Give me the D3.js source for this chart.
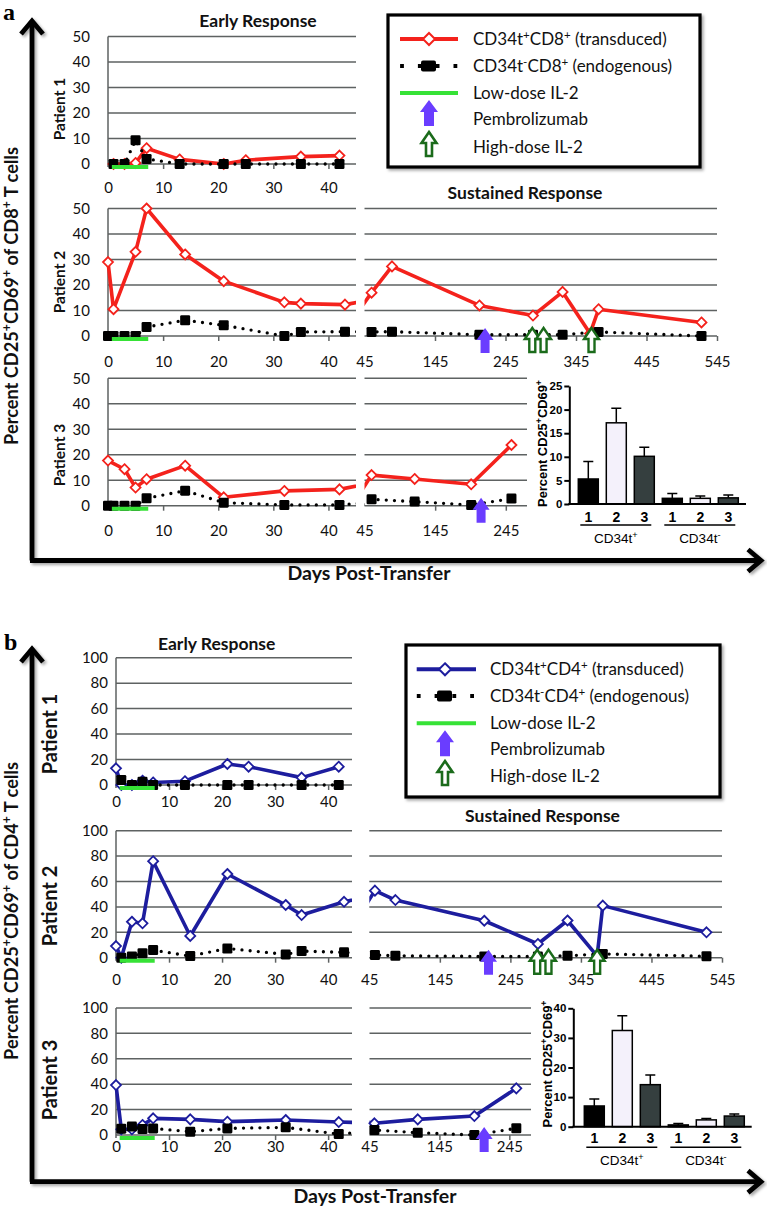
<!DOCTYPE html>
<html>
<head>
<meta charset="utf-8">
<script src="https://cdn.jsdelivr.net/npm/d3@7"></script>
<style>
  body { margin: 0; background: #fff; }
  svg { display: block; }
</style>
</head>
<body>
<div id="chart"></div>
<script>
// ---------- panel a : CD8+ ----------
const aP1Days  = [1, 3, 5, 7, 13, 21, 25, 35, 42];
const aP1Trans = [0, 0, 0.4, 6.2, 1.8, 0, 1.5, 2.9, 3.3];
const aP1Endo  = [0, 0, 9.3, 2, 0, 0, 0, 0, 0];

const aP2Days  = [0, 1, 3, 5, 7, 14, 21, 32, 35, 43, 55, 84, 208, 284, 326, 365, 377, 523];
const aP2Trans = [29, 10.5, null, 33, 50, 32, 21.5, 13.2, 12.7, 12.3, 17, 27.3, 12, 8, 17.3, 1, 10.5, 5.3];
const aP2Endo  = [0, 0, 0, 0, 3.5, 6.2, 4.2, 0, 1.6, 1.7, 1.6, 1.7, 0.5, 0.5, 0.5, null, 1.6, 0];
const aP2Pembro = [216];
const aP2HighDose = [283, 299, 367];

const aP3Days  = [0, 1, 3, 5, 7, 14, 21, 32, 42, 55, 116, 196, 253];
const aP3Trans = [17.7, null, 14.3, 7.1, 10.4, 15.7, 3.3, 5.8, 6.4, 12, 10.5, 8.4, 23.8];
const aP3Endo  = [0, 0, 0, 0, 2.9, 5.9, 1.2, 0.3, 0.3, 2.5, 1.6, 0.3, 2.8];
const aP3Pembro = [210];

// ---------- panel b : CD4+ ----------
const bP1Days  = [0, 1, 3, 5, 7, 13, 21, 25, 35, 42];
const bP1Trans = [13.1, 0, 0, 3.4, 2, 3, 16.5, 14.4, 5.8, 14.4];
const bP1Endo  = [null, 4, 0, 2.5, 0, 0, 0, 0, 0, 0];

const bP2Days  = [0, 1, 3, 5, 7, 14, 21, 32, 35, 43, 53, 82, 208, 284, 326, 368, 376, 523];
const bP2Trans = [9.2, 0, 28.3, 27.1, 76, 17.1, 65.9, 41.5, 33.6, 44, 52.8, 45.4, 29.1, 10.8, 29.3, 1.3, 41, 20];
const bP2Endo  = [null, 0, 1, 3.5, 6, 1.3, 7.3, 2.6, 5.2, 4.2, 2.1, 1.5, 1, 1, 1.5, null, 3, 1.1];
const bP2Pembro = [214];
const bP2HighDose = [283, 299, 368];

const bP3Days  = [0, 1, 3, 5, 7, 14, 21, 32, 42, 52, 114, 195, 255];
const bP3Trans = [39.3, 4.5, 4.5, 7.9, 13.1, 12.3, 10.5, 11.8, 10.2, 9.2, 12.3, 14.9, 36.7];
const bP3Endo  = [null, 5, 6.6, 4.7, 5.2, 2.6, 5.2, 6, 0.8, 3.9, 1.8, 0, 5.3];
const bP3Pembro = [209];

const lowDoseDays = [0.7, 7.3];

// ticks
const aYTicks = [0, 10, 20, 30, 40, 50];
const bYTicks = [0, 20, 40, 60, 80, 100];
const earlyTicks = [0, 10, 20, 30, 40];
const sustainedTicks = [45, 145, 245, 345, 445, 545];

// inset bar charts (mean and SEM)
const barNumbers = ["1", "2", "3"];
const barGroups = ["CD34t^+", "CD34t^-"];
const cd8BarMean = [5.3, 17.2, 10.1, 1.2, 1.2, 1.3];
const cd8BarSem  = [3.7, 3.1, 1.9, 1.0, 0.5, 0.6];
const cd8BarTicks = [0, 5, 10, 15, 20, 25];
const cd4BarMean = [7.0, 32.5, 14.2, 0.6, 2.3, 3.6];
const cd4BarSem  = [2.4, 5.0, 3.3, 0.5, 0.5, 0.7];
const cd4BarTicks = [0, 10, 20, 30, 40];

const cd8LegendLabels = ["CD34t^+CD8^+ (transduced)", "CD34t^-CD8^+ (endogenous)", "Low-dose IL-2", "Pembrolizumab", "High-dose IL-2"];
const cd4LegendLabels = ["CD34t^+CD4^+ (transduced)", "CD34t^-CD4^+ (endogenous)", "Low-dose IL-2", "Pembrolizumab", "High-dose IL-2"];

const W = 767, H = 1210;
const FONT = "Lato, 'Open Sans', 'DejaVu Sans', sans-serif";
const ARIAL = "'Liberation Sans', Arial, sans-serif";
const RED = "#f4221c", NAVY = "#1d1d9e", GREEN = "#36e236", PURPLE = "#6a3dff", DKGREEN = "#1b6b1b", GRID = "#5e6262";
const barFills = ["#000000", "#f4f1fb", "#353f3f"];
const TICK_FS = 15;

const svg = d3.select("#chart").append("svg")
    .attr("width", W).attr("height", H)
    .style("font-family", FONT);

const defs = svg.append("defs");
defs.append("filter").attr("id", "shadow").attr("x", "-10%").attr("y", "-10%").attr("width", "120%").attr("height", "120%")
  .append("feDropShadow").attr("dx", 2).attr("dy", 2).attr("stdDeviation", 1.5)
  .attr("flood-color", "#000").attr("flood-opacity", 0.35);

// text with ^+ / ^- superscripts
function rich(sel, str, fs) {
    sel.selectAll("tspan").remove();
    sel.attr("font-size", fs);
    const parts = str.split(/(\^[+-])/).filter(s => s.length);
    let up = false;
    parts.forEach(p => {
        if (p[0] === "^") {
            sel.append("tspan").attr("dy", -fs * 0.38).attr("font-size", fs * 0.68).text(p[1]);
            up = true;
        } else {
            sel.append("tspan").attr("dy", up ? fs * 0.38 : 0).text(p);
            up = false;
        }
    });
    return sel;
}
// centre a text on its x by measuring it
function centre(sel) {
    const len = sel.node().getComputedTextLength();
    sel.attr("text-anchor", "start").attr("x", (+sel.attr("x") || 0) - len / 2);
    return sel;
}
// size a rich text so that it spans a given length
function fitRich(sel, str, fs, target) {
    rich(sel, str, fs);
    const len = sel.node().getComputedTextLength();
    return rich(sel, str, fs * target / len);
}

function arrowPath(cx, tip, w, h, sw, hh) {
    const hw = w / 2, s = sw / 2;
    return `M${cx},${tip}L${cx + hw},${tip + hh}L${cx + s},${tip + hh}L${cx + s},${tip + h}` +
           `L${cx - s},${tip + h}L${cx - s},${tip + hh}L${cx - hw},${tip + hh}Z`;
}
function pembroArrow(g, cx, tip) {
    g.append("path").attr("d", arrowPath(cx, tip, 17, 25, 9, 12)).attr("fill", PURPLE);
}
function highArrow(g, cx, tip) {
    g.append("path").attr("d", arrowPath(cx, tip, 15, 24, 6, 11))
      .attr("fill", "#fff").attr("stroke", DKGREEN).attr("stroke-width", 2.4);
}

let clipId = 0;
function clipRect(x0, x1) {
    const id = "clip" + (clipId++);
    defs.append("clipPath").attr("id", id).append("rect")
      .attr("x", x0).attr("y", 0).attr("width", x1 - x0).attr("height", H);
    return `url(#${id})`;
}

function drawRow(p, r) {
    const g = svg.append("g");
    const y = d3.scaleLinear().domain([0, p.yMax]).range([r.y0, r.yTop]);
    const xL = d3.scaleLinear().domain(p.xLDomain).range(p.xLRange);
    const xR = r.xRRange ? d3.scaleLinear().domain(r.xRDomain).range(r.xRRange) : null;
    const segs = xR ? [xL, xR] : [xL];

    // grid lines (0 line doubles as x axis)
    segs.forEach(x => {
        g.append("g").selectAll("line").data(p.yTicks).join("line")
          .attr("x1", x.range()[0]).attr("x2", x.range()[1])
          .attr("y1", d => y(d)).attr("y2", d => y(d))
          .attr("stroke", GRID).attr("stroke-width", 1.5);
    });
    g.append("line").attr("x1", xL(0)).attr("x2", xL(0))
      .attr("y1", y(0) + 3).attr("y2", y(p.yMax))
      .attr("stroke", GRID).attr("stroke-width", 1.5);

    // y tick labels
    const ya = g.append("g").attr("transform", `translate(${xL(0)},0)`)
      .call(d3.axisLeft(y).tickValues(p.yTicks).tickSize(0).tickPadding(p.yPad));
    ya.select(".domain").remove();
    ya.selectAll("text").attr("font-family", FONT).attr("font-size", TICK_FS).attr("fill", "#111");

    // x axes
    g.append("g").attr("transform", `translate(0,${r.y0})`)
      .call(d3.axisBottom(xL).tickValues(earlyTicks).tickSize(5).tickPadding(r.labOff - 10.5));
    if (xR) {
        const rt = sustainedTicks.filter(t => t <= r.xRDomain[1]);
        g.append("g").attr("transform", `translate(0,${r.y0})`)
          .call(d3.axisBottom(xR).tickValues(rt).tickSize(5).tickPadding(r.labOff - 10.5));
    }
    g.selectAll(".domain").remove();
    g.selectAll(".tick line").attr("stroke", GRID).attr("stroke-width", 1.5)
      .filter(d => d === 0 || d === 45).remove();
    g.selectAll(".tick text").attr("font-family", FONT).attr("font-size", TICK_FS).attr("fill", "#111");

    const trans = r.days.map((d, i) => ({ day: d, v: r.trans[i] })).filter(q => q.v != null);
    const endo = r.days.map((d, i) => ({ day: d, v: r.endo[i] })).filter(q => q.v != null);

    segs.forEach((x, si) => {
        const clip = si === 0 ? clipRect(x.range()[0] - 10, x.range()[1]) : clipRect(x.range()[0], x.range()[1] + 10);
        const inSeg = q => si === 0 ? q.day <= x.domain()[1] : q.day >= x.domain()[0];
        const line = d3.line().x(q => x(q.day)).y(q => y(q.v));

        g.append("path").datum(trans).attr("d", line).attr("clip-path", clip)
          .attr("fill", "none").attr("stroke", p.color).attr("stroke-width", 3.6)
          .attr("stroke-linejoin", "round");
        g.append("g").selectAll("path").data(trans.filter(inSeg)).join("path")
          .attr("d", "M0,-5L5,0L0,5L-5,0Z")
          .attr("transform", q => `translate(${x(q.day)},${y(q.v)})`)
          .attr("fill", "#fff").attr("stroke", p.color).attr("stroke-width", 1.8);

        g.append("path").datum(endo).attr("d", line).attr("clip-path", clip)
          .attr("fill", "none").attr("stroke", "#000").attr("stroke-width", 3.3)
          .attr("stroke-dasharray", "0 8.2").attr("stroke-linecap", "round");
        g.append("g").selectAll("rect").data(endo.filter(inSeg)).join("rect")
          .attr("x", q => x(q.day) - 5).attr("y", q => y(q.v) - 5)
          .attr("width", 10).attr("height", 10).attr("rx", 1.3)
          .attr("fill", "#000");
    });

    // low-dose IL-2 period
    g.append("line").attr("x1", xL(lowDoseDays[0])).attr("x2", xL(lowDoseDays[1]))
      .attr("y1", y(0) + 3).attr("y2", y(0) + 3)
      .attr("stroke", GREEN).attr("stroke-width", 4);

    if (xR) {
        (r.pembro || []).forEach(d => pembroArrow(g, xR(d), y(0) - 8));
        (r.high || []).forEach(d => highArrow(g, xR(d), y(0) - 8));
    }

    // patient label
    g.append("text").attr("transform", `translate(${p.patX},${r.patY}) rotate(-90)`)
      .attr("text-anchor", "middle").attr("font-weight", "bold").attr("font-size", p.patFs)
      .attr("fill", "#111").text(r.patient);
}

function drawLegend(L) {
    const g = svg.append("g");
    g.append("rect").attr("x", L.x).attr("y", L.y).attr("width", L.w).attr("height", L.h)
      .attr("fill", "#fff").attr("stroke", "#000").attr("stroke-width", 3.2)
      .attr("filter", "url(#shadow)");
    const [s0, s1] = L.sample, mid = L.mid, ry = L.rows;
    g.append("line").attr("x1", s0).attr("x2", s1).attr("y1", ry[0]).attr("y2", ry[0])
      .attr("stroke", L.color).attr("stroke-width", 4);
    g.append("path").attr("d", "M0,-6L6,0L0,6L-6,0Z").attr("transform", `translate(${mid},${ry[0]})`)
      .attr("fill", "#fff").attr("stroke", L.color).attr("stroke-width", 2);
    g.append("line").attr("x1", s0 + 2).attr("x2", s1).attr("y1", ry[1]).attr("y2", ry[1])
      .attr("stroke", "#000").attr("stroke-width", 3.8).attr("stroke-dasharray", "0 17.8")
      .attr("stroke-linecap", "square");
    g.append("rect").attr("x", mid - 8).attr("y", ry[1] - 5.5).attr("width", 15).attr("height", 11)
      .attr("rx", 2).attr("fill", "#000");
    g.append("line").attr("x1", s0).attr("x2", s1).attr("y1", ry[2]).attr("y2", ry[2])
      .attr("stroke", GREEN).attr("stroke-width", 4);
    g.append("path").attr("d", arrowPath(mid, ry[3] - 19, 18, 26, 10, 12)).attr("fill", PURPLE);
    g.append("path").attr("d", arrowPath(mid, ry[4] - 15, 15, 24, 6, 11))
      .attr("fill", "#fff").attr("stroke", DKGREEN).attr("stroke-width", 2.6);
    L.labels.forEach((t, i) => {
        rich(g.append("text").attr("x", L.textX).attr("y", ry[i] + 6).attr("fill", "#111"), t, 17);
    });
}

function drawBars(B) {
    const g = svg.append("g").attr("font-family", ARIAL);
    const y = d3.scaleLinear().domain([0, B.max]).range([B.y0, B.yTop]);
    const x = d3.scaleBand().domain(d3.range(B.mean.length)).range(B.band)
      .paddingInner(0.286).paddingOuter(0.143);
    const bw = x.bandwidth();

    // error bars (upper only)
    g.selectAll(".err").data(B.mean).join("path")
      .attr("d", (d, i) => {
          const cx = x(i) + bw / 2, top = y(d + B.sem[i]);
          return `M${cx},${y(d)}V${top}M${cx - 5},${top}H${cx + 5}`;
      })
      .attr("stroke", "#000").attr("stroke-width", 1.5).attr("fill", "none");
    g.selectAll(".bar").data(B.mean).join("rect")
      .attr("x", (d, i) => x(i)).attr("width", bw)
      .attr("y", d => y(d)).attr("height", d => B.y0 - y(d))
      .attr("fill", (d, i) => barFills[i % 3]).attr("stroke", "#000").attr("stroke-width", 1.5);

    const ax = g.append("g").attr("transform", `translate(${B.axisX},0)`)
      .call(d3.axisLeft(y).tickValues(B.ticks).tickSize(5).tickSizeOuter(0).tickPadding(2));
    ax.select(".domain").attr("stroke-width", 2);
    ax.selectAll(".tick line").attr("stroke-width", 2);
    ax.selectAll("text").attr("font-family", ARIAL).attr("font-weight", "bold")
      .attr("font-size", 11.5).attr("fill", "#000");
    g.append("line").attr("x1", B.axisX - 1).attr("x2", B.xEnd).attr("y1", B.y0).attr("y2", B.y0)
      .attr("stroke", "#000").attr("stroke-width", 2);

    g.selectAll(".num").data(B.mean).join("text")
      .attr("x", (d, i) => x(i) + bw / 2).attr("y", B.numY)
      .attr("text-anchor", "middle").attr("font-weight", "bold").attr("font-size", 14)
      .text((d, i) => barNumbers[i % 3]);

    barGroups.forEach((grp, gi) => {
        const xa = x(gi * 3) + 2, xb = x(gi * 3 + 2) + bw - 3;
        g.append("line").attr("x1", xa).attr("x2", xb).attr("y1", B.lineY).attr("y2", B.lineY)
          .attr("stroke", "#000").attr("stroke-width", 1.5);
        centre(rich(g.append("text").attr("x", (xa + xb) / 2).attr("y", B.grpY), grp, 13.5));
    });

    centre(fitRich(g.append("text").attr("transform", `translate(${B.labX},${B.labY}) rotate(-90)`)
      .attr("font-weight", "bold"), "Percent CD25^+CD69^+", 13, 127));
}

function bigAxes(top, corner) {
    const g = svg.append("g").attr("filter", "url(#shadow)")
      .attr("fill", "none").attr("stroke", "#000").attr("stroke-width", 4.8);
    g.append("path").attr("d", `M32,${corner}V${top + 3}`);
    g.append("path").attr("d", `M21,${top + 14}L32,${top + 1}L43,${top + 14}`);
    g.append("path").attr("d", `M30,${corner}H759`);
    g.append("path").attr("d", `M748,${corner - 11}L761,${corner}L748,${corner + 11}`);
}

function titles(T) {
    svg.append("text").attr("x", T.earlyX).attr("y", T.earlyY).attr("text-anchor", "middle")
      .attr("font-weight", "bold").attr("font-size", 17.5).attr("fill", "#111").text("Early Response");
    svg.append("text").attr("x", T.susX).attr("y", T.susY).attr("text-anchor", "middle")
      .attr("font-weight", "bold").attr("font-size", 17.5).attr("fill", "#111").text("Sustained Response");
    centre(fitRich(svg.append("text").attr("transform", `translate(18,${T.yLabY}) rotate(-90)`)
      .attr("font-weight", "bold").attr("fill", "#111"), T.yLabel, 16, 298));
    svg.append("text").attr("x", T.daysX).attr("y", T.daysY).attr("text-anchor", "middle")
      .attr("font-weight", "bold").attr("font-size", 19.5).attr("fill", "#111").text("Days Post-Transfer");
    svg.append("text").attr("x", T.letterX).attr("y", T.letterY)
      .attr("font-family", "'Liberation Serif', 'DejaVu Serif', serif")
      .attr("font-weight", "bold").attr("font-size", 24).text(T.letter);
}

// ================= panel a =================
bigAxes(20, 560.5);
const panelA = { yMax: 50, yTicks: aYTicks, xLDomain: [0, 45], xLRange: [108, 356], yPad: 18,
                 color: RED, patX: 65, patFs: 15.5 };
[
    { days: aP1Days, trans: aP1Trans, endo: aP1Endo, y0: 164, yTop: 36.5, labOff: 24, patient: "Patient 1", patY: 109 },
    { days: aP2Days, trans: aP2Trans, endo: aP2Endo, y0: 336, yTop: 208.5, labOff: 25.7, patient: "Patient 2", patY: 282,
      xRDomain: [45, 545], xRRange: [364.5, 717], pembro: aP2Pembro, high: aP2HighDose },
    { days: aP3Days, trans: aP3Trans, endo: aP3Endo, y0: 505.7, yTop: 378.2, labOff: 25, patient: "Patient 3", patY: 455,
      xRDomain: [45, 275], xRRange: [364.5, 527], pembro: aP3Pembro }
].forEach(r => drawRow(panelA, r));

drawLegend({ x: 388, y: 15, w: 312, h: 152, sample: [400, 458], mid: 429, textX: 473,
             rows: [39, 66, 93, 119, 147], color: RED, labels: cd8LegendLabels });
drawBars({ mean: cd8BarMean, sem: cd8BarSem, max: 25, ticks: cd8BarTicks, y0: 504, yTop: 386,
           band: [574.3, 742.3], axisX: 569.3, xEnd: 746, numY: 521.5, lineY: 525, grpY: 543,
           labX: 547, labY: 443.5 });
titles({ earlyX: 258, earlyY: 27, susX: 525, susY: 199, yLabY: 296, yLabel: "Percent CD25^+CD69^+ of CD8^+ T cells",
         daysX: 369, daysY: 580, letter: "a", letterX: 3, letterY: 20 });

// ================= panel b =================
bigAxes(648, 1181.7);
const panelB = { yMax: 100, yTicks: bYTicks, xLDomain: [0, 44.5], xLRange: [116, 352], yPad: 8,
                 color: NAVY, patX: 57, patFs: 20 };
[
    { days: bP1Days, trans: bP1Trans, endo: bP1Endo, y0: 785, yTop: 657.7, labOff: 16.7, patient: "Patient 1", patY: 734 },
    { days: bP2Days, trans: bP2Trans, endo: bP2Endo, y0: 957.7, yTop: 830.7, labOff: 22.3, patient: "Patient 2", patY: 906,
      xRDomain: [45, 545], xRRange: [369.3, 722], pembro: bP2Pembro, high: bP2HighDose },
    { days: bP3Days, trans: bP3Trans, endo: bP3Endo, y0: 1135, yTop: 1007.9, labOff: 11.7, patient: "Patient 3", patY: 1080,
      xRDomain: [45, 276], xRRange: [369.5, 531], pembro: bP3Pembro }
].forEach(r => drawRow(panelB, r));

drawLegend({ x: 406, y: 645, w: 314, h: 152, sample: [416.7, 476], mid: 445, textX: 490,
             rows: [669.3, 696, 723.3, 749.3, 776], color: NAVY, labels: cd4LegendLabels });
drawBars({ mean: cd4BarMean, sem: cd4BarSem, max: 40, ticks: cd4BarTicks, y0: 1126.7, yTop: 1008.3,
           band: [580.3, 748.3], axisX: 573.3, xEnd: 751.7, numY: 1142.5, lineY: 1147.3, grpY: 1165,
           labX: 551.5, labY: 1064 });
titles({ earlyX: 216.7, earlyY: 650, susX: 542.5, susY: 822, yLabY: 911, yLabel: "Percent CD25^+CD69^+ of CD4^+ T cells",
         daysX: 375, daysY: 1203, letter: "b", letterX: 4, letterY: 650 });
</script>
</body>
</html>
